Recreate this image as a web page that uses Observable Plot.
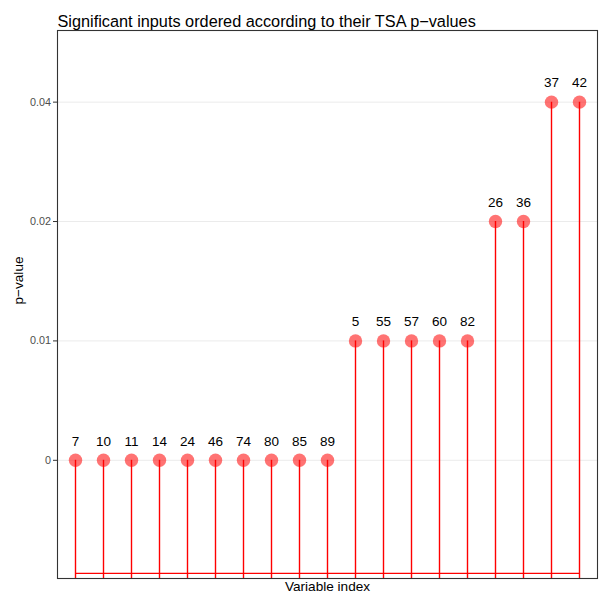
<!DOCTYPE html>
<html>
<head>
<meta charset="utf-8">
<script src="https://cdn.jsdelivr.net/npm/d3@7"></script>
<script src="https://cdn.jsdelivr.net/npm/@observablehq/plot@0.6"></script>
<style>
  html, body { margin: 0; padding: 0; background: white; }
</style>
</head>
<body>
<div id="chart"></div>
<script>
const vars = ["7","10","11","14","24","46","74","80","85","89","5","55","57","60","82","26","36","37","42"];
const pvals = [0,0,0,0,0,0,0,0,0,0,0.01,0.01,0.01,0.01,0.01,0.02,0.02,0.04,0.04];
const yLevels = ["0","0.01","0.02","0.04"];
const titleText = "Significant inputs ordered according to their TSA p\u2212values";
const yTitle = "p\u2212value";
const xTitle = "Variable index";

const data = vars.map((v, i) => ({v, p: pvals[i], k: yLevels.indexOf(String(pvals[i]))}));
const levelIdx = yLevels.map((d, i) => i);
const yMin = -0.99, yMax = 3.6, stemBase = -0.947;
const baseLine = [{x1: vars[0], x2: vars[vars.length - 1], y: stemBase}];

const chart = Plot.plot({
  width: 599,
  height: 596,
  marginLeft: 57,
  marginRight: 2,
  marginTop: 30,
  marginBottom: 18,
  x: {type: "point", domain: vars, range: [73.3, 581.2], padding: 0, axis: null},
  y: {domain: [yMin, yMax], axis: null},
  style: {fontFamily: "'Liberation Sans', Arial, sans-serif", background: "white"},
  marks: [
    Plot.gridY(levelIdx, {stroke: "#ebebeb", strokeOpacity: 1, strokeWidth: 1}),
    Plot.ruleX(data, {x: "v", y1: () => yMin, y2: "k", stroke: "#ff0000", strokeOpacity: 1, strokeWidth: 1.4}),
    Plot.ruleY(baseLine, {x1: "x1", x2: "x2", y: "y", stroke: "#ff0000", strokeOpacity: 1, strokeWidth: 1.4}),
    Plot.dot(data, {x: "v", y: "k", r: 6.7, fill: "#ff0000", fillOpacity: 0.55, stroke: "none"}),
    Plot.text(data, {x: "v", y: "k", text: "v", dy: -19, fontSize: 13.5, fill: "black"}),
    Plot.axisY(levelIdx, {tickFormat: i => yLevels[i], tickSize: 4, tickPadding: 2.5, fontSize: 10.8, stroke: "#333", fill: "#4d4d4d", label: null}),
    Plot.frame({stroke: "#333", strokeWidth: 1.1}),
    Plot.text([titleText], {frameAnchor: "top-left", textAnchor: "start", dy: -15, fontSize: 16.3, fill: "black"}),
    Plot.text([yTitle], {frameAnchor: "left", dx: -39, rotate: -90, fontSize: 13.6, fill: "black"}),
    Plot.text([xTitle], {frameAnchor: "bottom", dy: 12, fontSize: 13.6, fill: "black"})
  ]
});
document.getElementById("chart").appendChild(chart);
</script>
</body>
</html>
